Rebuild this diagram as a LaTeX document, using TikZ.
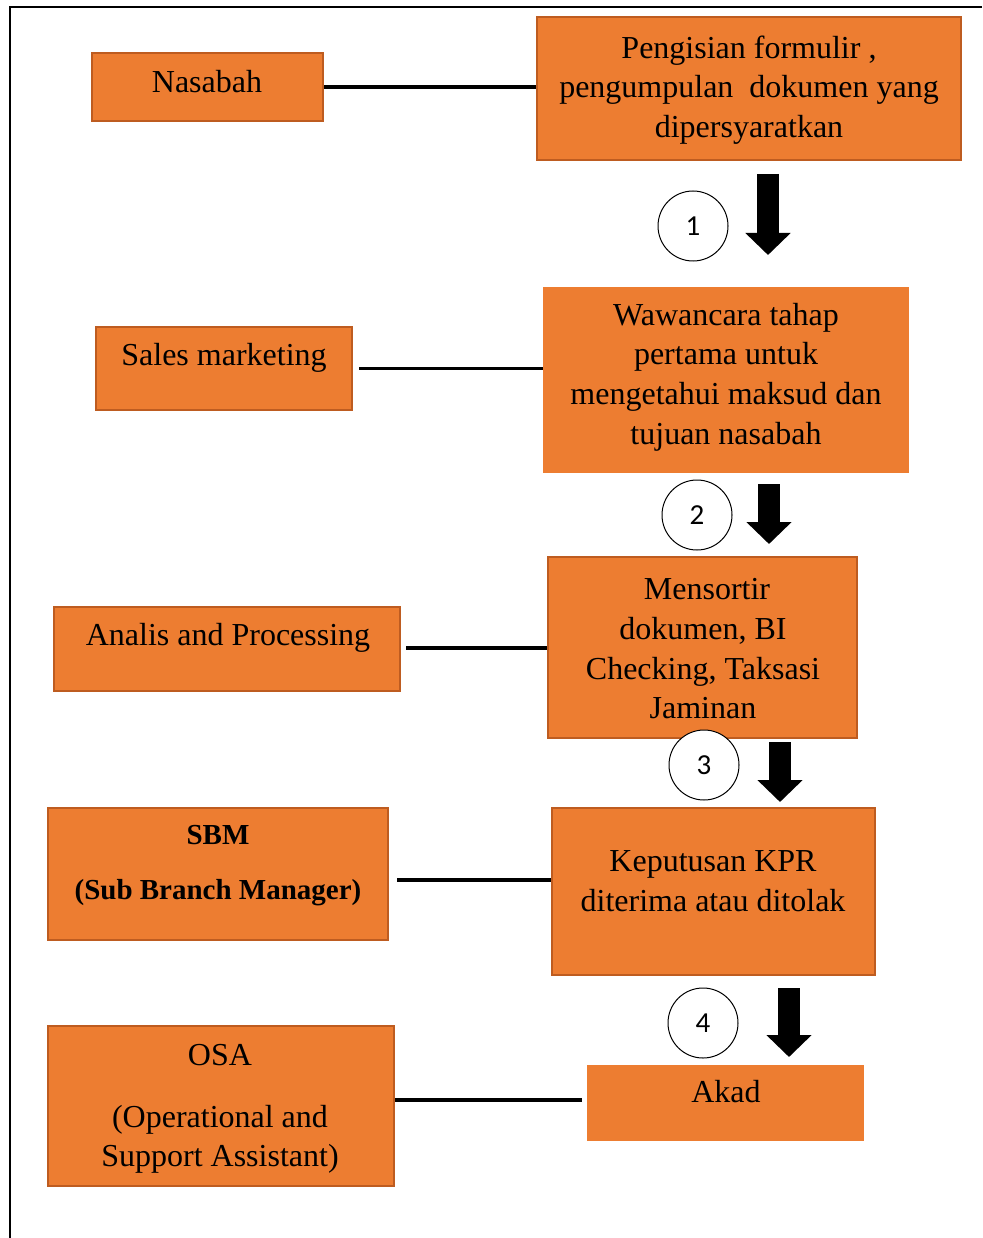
\documentclass[tikz,border=0pt]{standalone}
\usepackage{fontspec}
\setmainfont{Liberation Serif}
\newfontfamily\numfont{Carlito}
\usetikzlibrary{arrows.meta,calc}

\definecolor{boxfill}{RGB}{237,125,49}
\definecolor{boxline}{RGB}{190,92,32}

\tikzstyle{every node}=[font=\fontsize{32}{39.7}\selectfont]
\tikzstyle{box}=[rectangle, fill=boxfill, draw=boxline, line width=2pt, inner sep=0pt]
\tikzstyle{flatbox}=[rectangle, fill=boxfill, inner sep=0pt]
\tikzstyle{boxtext}=[align=center, inner sep=0pt]
\tikzstyle{num}=[circle, draw, fill=white, line width=1pt, minimum size=70pt, font=\numfont\fontsize{29}{32}\selectfont]
\tikzstyle{link}=[line width=3.5pt]
\tikzstyle{down}=[line width=22pt, -{Triangle[width=44pt,length=22pt]}]

\begin{document}
\begin{tikzpicture}[x=1pt, y=-1pt]
    \useasboundingbox (0,0) rectangle (982,1238);
    \draw[line width=2pt] (982,7) -- (10,7) -- (10,1238);

    % left column
    \path (207.5,87) node[box, minimum width=231pt, minimum height=68pt] (nasabah) {};
    \path (224,368.5) node[box, minimum width=256pt, minimum height=83pt] (sales) {};
    \path (227,649) node[box, minimum width=346pt, minimum height=84pt] (analis) {};
    \path (218,874) node[box, minimum width=340pt, minimum height=132pt] (sbm) {};
    \path (221,1106) node[box, minimum width=346pt, minimum height=160pt] (osa) {};

    % right column
    \path (749,88.5) node[box, minimum width=424pt, minimum height=143pt] (isi) {};
    \path (726,380) node[flatbox, minimum width=366pt, minimum height=186pt] (wawancara) {};
    \path (702.5,647.5) node[box, minimum width=309pt, minimum height=181pt] (sortir) {};
    \path (713.5,891.5) node[box, minimum width=323pt, minimum height=167pt] (putusan) {};
    \path (725.5,1103) node[flatbox, minimum width=277pt, minimum height=76pt] (akad) {};

    % texts
    \path (207,82) node[boxtext] (nasabahtxt) {Nasabah};
    \path (224,358) node[boxtext] (salestxt) {Sales marketing};
    \path (228,638) node[boxtext] (analistxt) {Analis and Processing};
    \path (218,866) node[boxtext, font=\bfseries\fontsize{29}{55}\selectfont] (sbmtxt) {SBM\\(Sub Branch Manager)};
    \path (220,1109) node[boxtext] (osatxt) {OSA\\[22pt](Operational and\\Support Assistant)};
    \path (749,90) node[boxtext] (isitxt) {Pengisian formulir ,\\pengumpulan\ \ dokumen yang\\dipersyaratkan};
    \path (726,377) node[boxtext] (wawancaratxt) {Wawancara tahap\\pertama untuk\\mengetahui maksud dan\\tujuan nasabah};
    \path (703,649) node[boxtext] (sortirtxt) {\hspace{8pt}Mensortir\\dokumen, BI\\Checking, Taksasi\\Jaminan};
    \path (713,881) node[boxtext] (putusantxt) {Keputusan KPR\\diterima atau ditolak};
    \path (726,1092) node[boxtext] (akadtxt) {Akad};

    \draw[link] (nasabah.east) -- ($(isi.west)+(0,-1.5)$);
    \draw[link] ($(sales.east)+(6,0)$) -- ($(wawancara.west)+(0,-11.5)$);
    \draw[link] ($(analis.east)+(5,-1)$) -- ($(sortir.west)+(0,0.5)$);
    \draw[link] ($(sbm.east)+(8,6)$) -- ($(putusan.west)+(0,-11.5)$);
    \draw[link] ($(osa.east)+(0,-6)$) -- ($(akad.west)+(-5,-3)$);

    % numbered steps
    \foreach \i/\cx/\cy in {1/693/226, 2/697/515, 3/704/765, 4/703/1023}
    {
      \path (\cx,\cy) node[num] (n\i) {\i};
    }

    \foreach \i/\ax/\atop/\abot in {1/768/174/255, 2/769/484/544, 3/780/742/802, 4/789/988/1057}
    {
      \coordinate (a\i) at (\ax,\atop);
      \coordinate (b\i) at (\ax,\abot);
      \draw[down] (a\i) -- (b\i);
    }
\end{tikzpicture}
\end{document}
